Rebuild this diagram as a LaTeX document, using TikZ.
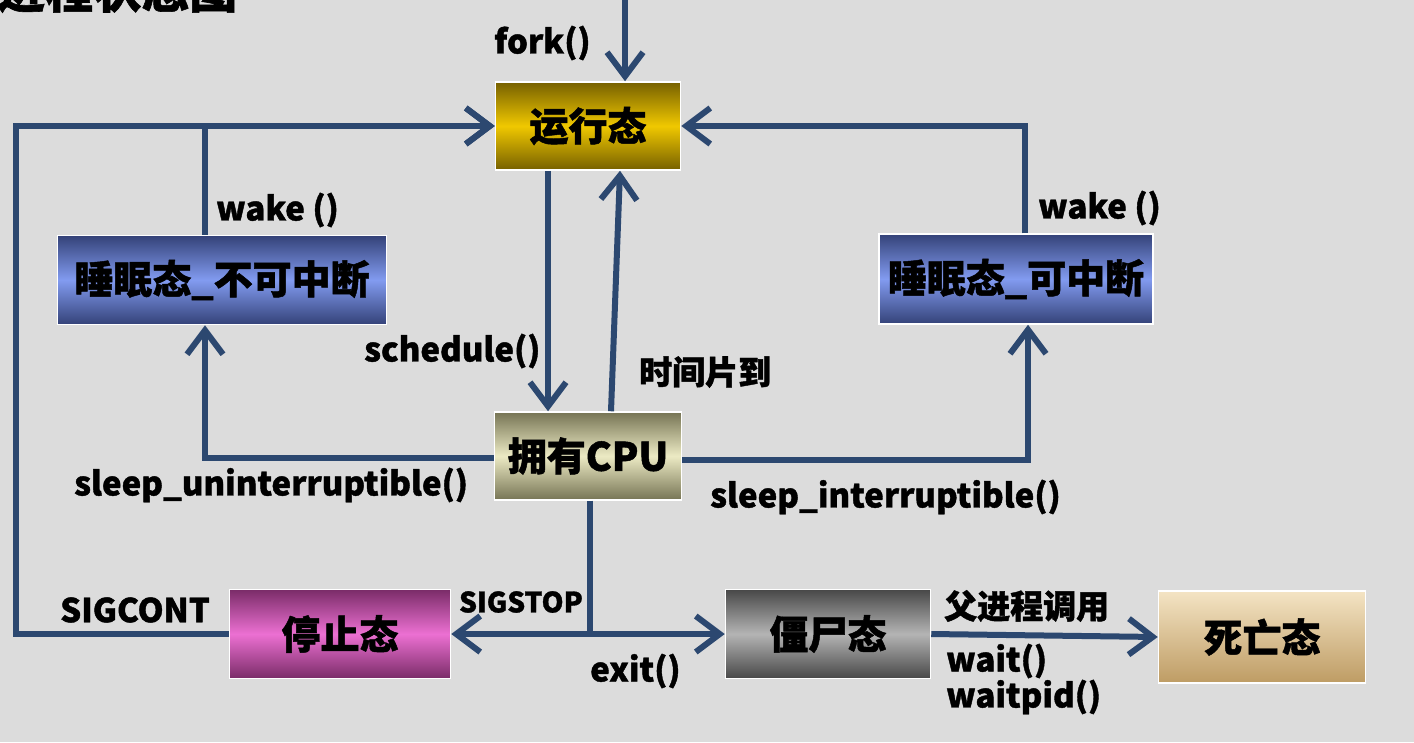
\documentclass[tikz,border=0pt]{standalone}
\usepackage{fontspec}
\setmainfont{Noto Sans CJK SC}[BoldFeatures={FakeBold=1.2}]
\usetikzlibrary{arrows.meta}
\definecolor{bgc}{RGB}{220,220,220}
\definecolor{edgec}{RGB}{44,72,112}
\definecolor{goldD}{RGB}{118,96,0}
\definecolor{goldL}{RGB}{240,200,0}
\definecolor{blueD}{RGB}{52,66,120}
\definecolor{blueL}{RGB}{130,155,240}
\definecolor{khakiD}{RGB}{118,116,84}
\definecolor{khakiL}{RGB}{236,234,196}
\definecolor{magD}{RGB}{122,44,104}
\definecolor{magL}{RGB}{236,112,210}
\definecolor{grayD}{RGB}{72,72,72}
\definecolor{grayL}{RGB}{180,180,180}
\definecolor{tanL}{RGB}{244,228,196}
\definecolor{tanD}{RGB}{190,156,100}
\tikzset{
  box/.style={draw=white, line width=1.5pt, inner sep=0pt,
    font=\bfseries\fontsize{39}{41}\selectfont, text=black},
  lbl/.style={font=\bfseries\fontsize{33}{35}\selectfont, text=black, inner sep=0pt, anchor=west},
  conn/.style={draw=edgec, line width=6pt,
    -{Straight Barb[length=24pt,width=36pt]}},
}
\begin{document}
\begin{tikzpicture}[x=1pt,y=-1pt]
\clip (0,0) rectangle (1414,742);
\fill[bgc] (0,0) rectangle (1414,742);
\node[anchor=base west, inner sep=0pt, font=\bfseries\fontsize{48}{48}\selectfont] (title) at (-3,8) {进程状态图};

% boxes
\node[box, minimum width=185pt, minimum height=88pt, top color=goldD, bottom color=goldD, middle color=goldL] (run) at (588,126) {运行态};
\node[box, minimum width=329pt, minimum height=89pt, top color=blueD, bottom color=blueD, middle color=blueL] (sleepU) at (222,280) {睡眠态\_不可中断};
\node[box, minimum width=274pt, minimum height=90pt, top color=blueD, bottom color=blueD, middle color=blueL] (sleepI) at (1016,279) {睡眠态\_可中断};
\node[box, minimum width=187pt, minimum height=88pt, top color=khakiD, bottom color=khakiD, middle color=khakiL] (cpu) at (588,456) {拥有CPU};
\node[box, minimum width=221pt, minimum height=89pt, top color=magD, bottom color=magD, middle color=magL] (stop) at (340,634) {停止态};
\node[box, minimum width=205pt, minimum height=89pt, top color=grayD, bottom color=grayD, middle color=grayL] (zombie) at (828,634) {僵尸态};
\node[box, minimum width=207pt, minimum height=92pt, top color=tanL, bottom color=tanD] (dead) at (1262,637) {死亡态};

% connectors
\coordinate (forktop) at (625,-2);
\draw[conn] (forktop) -- (forktop |- run.north);
\draw[conn] ([xshift=-40pt]run.south) -- ([xshift=-40pt]cpu.north);
\draw[conn] ([xshift=23pt]cpu.north) -- ([xshift=32pt]run.south);
\draw[conn] ([xshift=-17pt]sleepU.north) |- (run.west);
\coordinate (loopL) at (16,126);
\draw[conn] (stop.west) -| (loopL) -- (run.west);
\draw[conn] ([xshift=9pt]sleepI.north) |- (run.east);
\draw[conn] ([yshift=-2pt]cpu.west) -| ([xshift=-17pt]sleepU.south);
\draw[conn] ([yshift=-4pt]cpu.east) -| ([xshift=12pt]sleepI.south);
\draw[conn] ([xshift=2pt]cpu.south) |- (stop.east);
\draw[conn] ([xshift=2pt]cpu.south) |- (zombie.west);
\draw[conn] (zombie.east) -- (dead.west);

% labels
\node[lbl] (lfork) at (494,43) {fork()};
\node[lbl] (lwakeL) at (216,210) {wake ()};
\node[lbl] (lsched) at (364,351) {schedule()};
\node[lbl] (ltime) at (639,372) {时间片到};
\node[lbl] (lwakeR) at (1038,208) {wake ()};
\node[lbl] (lsu) at (74,485) {sleep\_uninterruptible()};
\node[lbl] (lsi) at (710,497) {sleep\_interruptible()};
\node[lbl] (lcont) at (60,610) {SIGCONT};
\node[lbl, anchor=east, font=\bfseries\fontsize{28}{30}\selectfont] (lstop) at (583,602) {SIGSTOP};
\node[lbl] (lexit) at (590,671) {exit()};
\node[lbl] (lparent) at (944,606) {父进程调用};
\node[lbl] (lwait) at (946,661) {wait()};
\node[lbl] (lwaitpid) at (946,697) {waitpid()};
\end{tikzpicture}
\end{document}
